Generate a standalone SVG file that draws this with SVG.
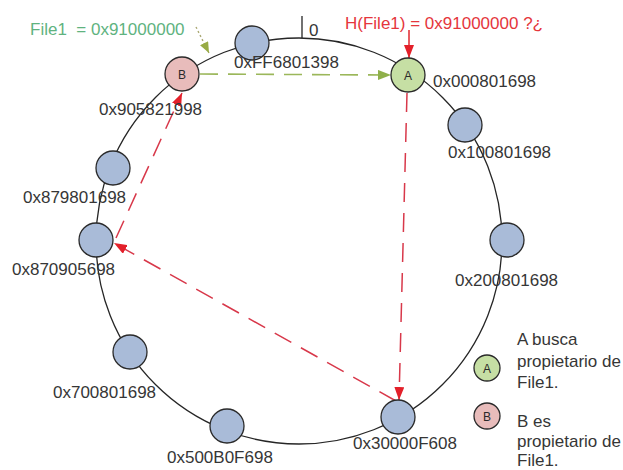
<svg xmlns="http://www.w3.org/2000/svg" width="623" height="470" viewBox="0 0 623 470">
  <style>
    .ring { fill: none; stroke: #262626; stroke-width: 1.3; }
    .node { fill: #a9bbd8; stroke: #2a2a2a; stroke-width: 1.3; }
    .nodeA { fill: #c6dfa4; stroke: #2a2a2a; stroke-width: 1.3; }
    .nodeB { fill: #e8bcbb; stroke: #2a2a2a; stroke-width: 1.3; }
    text { font-family: "Liberation Sans", Arial, sans-serif; font-size: 17px; fill: #363636; }
    .letter { font-size: 12px; text-anchor: middle; fill: #2a2a2a; }
    .red { fill: #e5363c; }
    .green { fill: #5fb37f; }
    .hop { fill: none; stroke: #d8384a; stroke-width: 1.5; stroke-dasharray: 19 11; }
    .query { fill: none; stroke: #e0262c; stroke-width: 1.5; }
    .owner { fill: none; stroke: #9bb75a; stroke-width: 1.6; stroke-dasharray: 18 10; }
    .hint { fill: none; stroke: #aaa873; stroke-width: 1.4; stroke-dasharray: 2 2.5; }
  </style>
  <defs>
    <marker id="arrRed" viewBox="0 0 13 10" refX="13" refY="5" markerWidth="13" markerHeight="10" orient="auto" markerUnits="userSpaceOnUse">
      <path d="M0,0 L13,5 L0,10 z" fill="#e3202a"/>
    </marker>
    <marker id="arrGreen" viewBox="0 0 13 10" refX="13" refY="5" markerWidth="13" markerHeight="10" orient="auto" markerUnits="userSpaceOnUse">
      <path d="M0,0 L13,5 L0,10 z" fill="#8fb04a"/>
    </marker>
    <marker id="arrOlive" viewBox="0 0 11 9" refX="11" refY="4.5" markerWidth="11" markerHeight="9" orient="auto" markerUnits="userSpaceOnUse">
      <path d="M0,0 L11,4.5 L0,9 z" fill="#98ab45"/>
    </marker>
  </defs>

  <!-- identifier ring -->
  <g id="ring">
    <circle class="ring" cx="299" cy="241" r="203"/>
    <line x1="302" y1="16" x2="302" y2="38" stroke="#262626" stroke-width="1.3"/>
    <text x="309" y="36">0</text>
  </g>

  <!-- connectors -->
  <g id="connectors">
    <line class="query" x1="409" y1="30" x2="409" y2="58" marker-end="url(#arrRed)"/>
    <line class="owner" x1="200" y1="74" x2="391" y2="75" marker-end="url(#arrGreen)"/>
    <line class="hint" x1="196" y1="27" x2="209" y2="53" marker-end="url(#arrOlive)"/>
    <line class="hop" x1="407" y1="93" x2="399" y2="400" marker-end="url(#arrRed)"/>
    <line class="hop" x1="396" y1="401" x2="114" y2="243" marker-end="url(#arrRed)"/>
    <line class="hop" x1="116" y1="238" x2="182" y2="93" marker-end="url(#arrRed)"/>
  </g>

  <!-- ring nodes -->
  <g id="n-FF6801398">
    <circle class="node" cx="252" cy="43" r="17"/>
    <text x="234" y="68">0xFF6801398</text>
  </g>
  <g id="n-B">
    <circle class="nodeB" cx="182" cy="74" r="17"/>
    <text class="letter" x="182" y="78.5">B</text>
    <text x="99" y="115">0x905821998</text>
  </g>
  <g id="n-A">
    <circle class="nodeA" cx="408" cy="75" r="17"/>
    <text class="letter" x="408" y="79.5">A</text>
    <text x="433" y="87">0x000801698</text>
  </g>
  <g id="n-100801698">
    <circle class="node" cx="465" cy="125" r="17"/>
    <text x="448" y="158">0x100801698</text>
  </g>
  <g id="n-200801698">
    <circle class="node" cx="507" cy="240" r="17"/>
    <text x="455" y="286">0x200801698</text>
  </g>
  <g id="n-30000F608">
    <circle class="node" cx="398" cy="417" r="17"/>
    <text x="353" y="449">0x30000F608</text>
  </g>
  <g id="n-500B0F698">
    <circle class="node" cx="227" cy="426" r="17"/>
    <text x="167" y="463">0x500B0F698</text>
  </g>
  <g id="n-700801698">
    <circle class="node" cx="130" cy="352" r="17"/>
    <text x="53" y="398">0x700801698</text>
  </g>
  <g id="n-870905698">
    <circle class="node" cx="96" cy="240" r="17"/>
    <text x="12" y="275">0x870905698</text>
  </g>
  <g id="n-879801698">
    <circle class="node" cx="113" cy="168" r="17"/>
    <text x="23" y="203">0x879801698</text>
  </g>

  <!-- annotations -->
  <g id="file-key">
    <text class="green" x="30" y="35" xml:space="preserve">File1  = 0x91000000</text>
  </g>
  <g id="hash-query">
    <text class="red" x="345" y="29">H(File1) = 0x91000000 ?¿</text>
  </g>

  <!-- legend -->
  <g id="legend-A">
    <circle class="nodeA" cx="487" cy="368" r="13"/>
    <text class="letter" x="487" y="372.5">A</text>
    <text x="517" y="345">A busca</text>
    <text x="517" y="367">propietario de</text>
    <text x="517" y="388">File1.</text>
  </g>
  <g id="legend-B">
    <circle class="nodeB" cx="487" cy="416" r="13"/>
    <text class="letter" x="487" y="420.5">B</text>
    <text x="517" y="427">B es</text>
    <text x="517" y="447">propietario de</text>
    <text x="517" y="466">File1.</text>
  </g>
</svg>
